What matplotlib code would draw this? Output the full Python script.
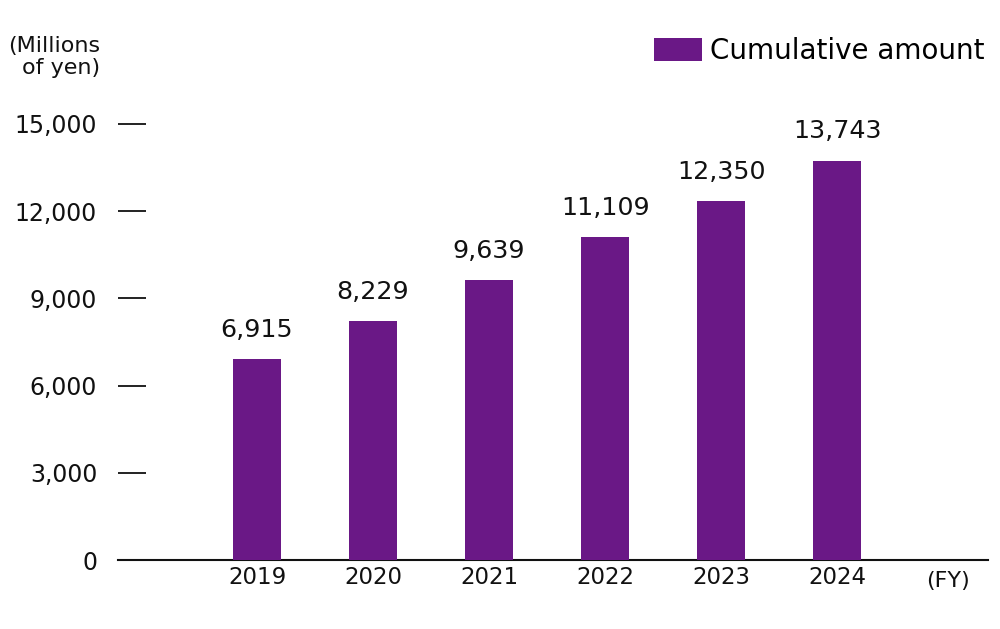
import matplotlib.pyplot as plt
import matplotlib.ticker as mticker
import numpy as np

# ── Data ──────────────────────────────────────────────────────────────────────

years = ["2019", "2020", "2021", "2022", "2023", "2024"]
cumulative = [6915, 8229, 9639, 11109, 12350, 13743]
y_ticks = [0, 3000, 6000, 9000, 12000, 15000]

# ── Style ─────────────────────────────────────────────────────────────────────

PURPLE = "#6A1886"
TEXT = "#111111"

plt.rcParams["font.family"] = ["DejaVu Sans"]

fig = plt.figure(figsize=(10, 6.29), dpi=100)
ax = fig.add_axes([0.118, 69 / 629, 0.870, 436 / 629])

x = np.arange(len(years))
ax.bar(x, cumulative, width=0.414, color=PURPLE, label="Cumulative amount", zorder=3)

for xi, v in zip(x, cumulative):
    ax.annotate(f"{v:,}", (xi, v), xytext=(0, 16), textcoords="offset points",
                ha="center", va="baseline", fontsize=18.3, color=TEXT,
                annotation_clip=False)

ax.set_xlim(-1.198, 6.30)
ax.set_ylim(0, 15000)
ax.set_yticks(y_ticks)
ax.yaxis.set_major_formatter(mticker.FuncFormatter(lambda v, _: f"{int(v):,}"))
ax.set_xticks(x)
ax.set_xticklabels(years)

ax.tick_params(axis="y", direction="in", length=20, width=1.3, pad=15,
               labelsize=17, colors=TEXT)
ax.tick_params(axis="x", length=0, pad=4.5, labelsize=16.5, colors=TEXT)

for s in ["top", "right", "left"]:
    ax.spines[s].set_visible(False)
ax.spines["bottom"].set_linewidth(1.5)
ax.spines["bottom"].set_color(TEXT)

ax.text(6.3 - 0.155, -0.025, "(FY)", transform=ax.get_xaxis_transform(),
        ha="right", va="top", fontsize=16, color=TEXT)

fig.text(0.100, 1 - 36 / 629, "(Millions\nof yen)", ha="right", va="top",
         fontsize=16, color=TEXT, linespacing=1.1)

ax.legend(loc="upper right", bbox_to_anchor=(0.985, 1 - 37 / 629),
          bbox_transform=fig.transFigure, frameon=False, fontsize=20,
          handlelength=1.76, handleheight=0.86, handletextpad=0.29, borderpad=0,
          borderaxespad=0)

fig.savefig("out.png", dpi=100)
